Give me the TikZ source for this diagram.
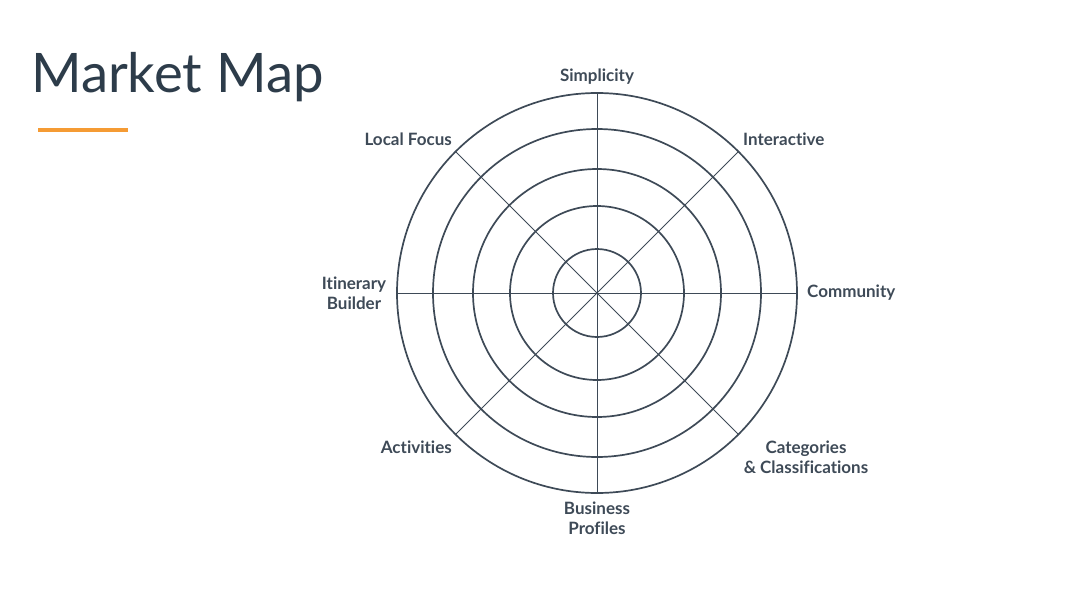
\documentclass[tikz,border=0pt]{standalone}
\usepackage{fontspec}
\setmainfont{Lato}[Ligatures={NoCommon}, RawFeature={-liga}]
\usepackage{tikz}
\usetikzlibrary{positioning}
\definecolor{slate}{HTML}{3E4A57}
\definecolor{titleink}{HTML}{2D3C4A}
\definecolor{accent}{HTML}{F59B34}
\tikzset{
    ring/.style={draw=slate, line width=1.7pt},
    spoke/.style={draw=slate, line width=0.9pt},
    axislabel/.style={text=slate, font=\bfseries\fontsize{17}{20}\selectfont, align=center, inner sep=0pt}
}

\begin{document}
\begin{tikzpicture}[x=1pt, y=-1pt]
    % 1. Canvas
    \useasboundingbox (0,0) rectangle (1080,608);

    % 2. Title and underline
    \node[anchor=west, text=titleink, font=\fontsize{54.5}{60}\selectfont, inner sep=0pt] (title) at (31,77) {Market Map};
    \draw[accent, line width=4.5pt] (38,130) -- (128,130);

    % 3. Rings
    \coordinate (hub) at (597,293);
    \foreach \r in {44,87,124,164,200}
        \draw[ring] (hub) circle (\r);

    % 4. Spokes (every 45 degrees)
    \foreach \a in {0,45,...,315}
        \draw[spoke] (hub) -- ++(\a:200);

    % 5. Axis labels
    \node[axislabel] (simplicity) at (597,77) {Simplicity};
    \node[axislabel, anchor=west] (interactive) at (743,139) {Interactive};
    \node[axislabel, anchor=west] (community) at (807,293) {Community};
    \node[axislabel] (categories) at (806,457) {Categories\\\& Classifications};
    \node[axislabel] (business) at (597,518) {Business\\Profiles};
    \node[axislabel, anchor=east] (activities) at (452,447) {Activities};
    \node[axislabel] (itinerary) at (354,293) {Itinerary\\Builder};
    \node[axislabel, anchor=east] (localfocus) at (452,139) {Local Focus};
\end{tikzpicture}
\end{document}
